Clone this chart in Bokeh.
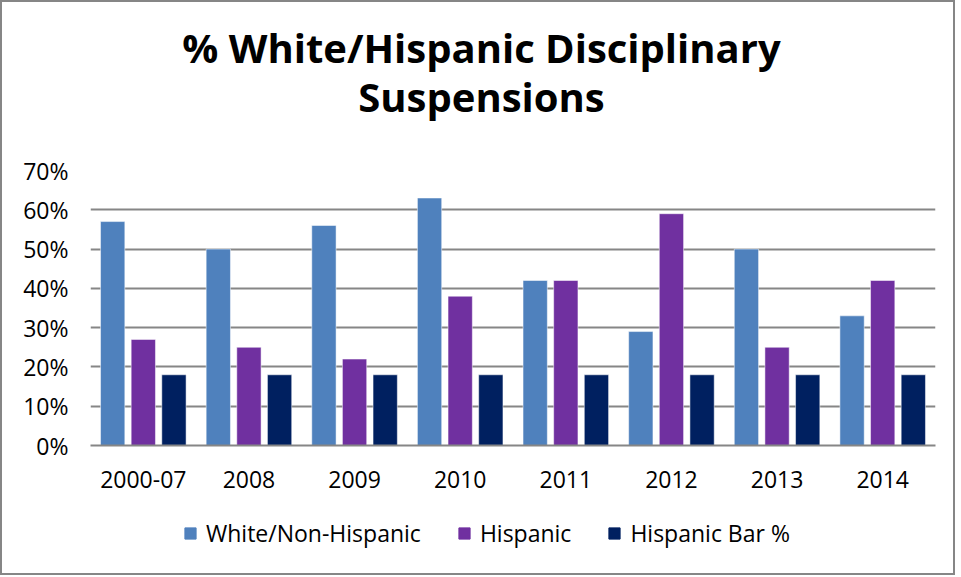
from bokeh.plotting import figure
from bokeh.layouts import column
from bokeh.models import (FactorRange, ColumnDataSource, NumeralTickFormatter, Legend, LegendItem,
                          FixedTicker, Label, Range1d)
from bokeh.transform import dodge
from bokeh.embed import file_html
from bokeh.resources import INLINE

categories = ["2000-07", "2008", "2009", "2010", "2011", "2012", "2013", "2014"]
white_non_hispanic = [0.57, 0.50, 0.56, 0.63, 0.42, 0.29, 0.50, 0.33]
hispanic = [0.27, 0.25, 0.22, 0.38, 0.42, 0.59, 0.25, 0.42]
hispanic_bar = [0.18, 0.18, 0.18, 0.18, 0.18, 0.18, 0.18, 0.18]
series_names = ["White/Non-Hispanic", "Hispanic", "Hispanic Bar %"]
y_ticks = [0, 0.1, 0.2, 0.3, 0.4, 0.5, 0.6, 0.7]
title_line1 = "% White/Hispanic Disciplinary"
title_line2 = "Suspensions"

colors = ["#4F81BD", "#7030A0", "#002060"]
FONT = "Open Sans"
W = 951


def blank_fig(h):
    f = figure(width=W, height=h, x_range=Range1d(0, 1), y_range=Range1d(0, 1),
               x_axis_type=None, y_axis_type=None, output_backend="svg", toolbar_location=None,
               min_border=0)
    f.title = None
    f.xgrid.visible = False
    f.ygrid.visible = False
    f.outline_line_color = None
    return f


# ---- title ----
pt = blank_fig(148)
for txt, yb in ((title_line1, 103), (title_line2, 54)):
    pt.add_layout(Label(x=391, y=yb, x_units="screen", y_units="screen", text=txt,
                        text_align="center", text_baseline="alphabetic", text_font=FONT,
                        text_font_size="40px", text_font_style="bold", text_color="#000000"))

# ---- main chart ----
src = ColumnDataSource(dict(cat=categories, w=white_non_hispanic, h=hispanic, b=hispanic_bar))

p = figure(x_range=FactorRange(*categories), y_range=(0, 0.7),
           width=W, frame_width=845, frame_height=275, output_backend="svg", toolbar_location=None,
           min_border_left=88, min_border_right=18, min_border_top=20, min_border_bottom=60)
p.title = None

r1 = p.vbar(x=dodge("cat", -0.29, range=p.x_range), top="w", width=0.23, source=src,
            color=colors[0], line_color="white", line_width=0.5)
r2 = p.vbar(x=dodge("cat", 0.0, range=p.x_range), top="h", width=0.23, source=src,
            color=colors[1], line_color="white", line_width=0.5)
r3 = p.vbar(x=dodge("cat", 0.29, range=p.x_range), top="b", width=0.23, source=src,
            color=colors[2], line_color="white", line_width=0.5)

p.x_range.range_padding = 0
p.yaxis.ticker = FixedTicker(ticks=y_ticks)
p.yaxis.formatter = NumeralTickFormatter(format="0%")
p.yaxis.axis_line_color = None
p.yaxis.major_tick_line_color = None
p.yaxis.minor_tick_line_color = None
p.yaxis.major_label_text_font = FONT
p.yaxis.major_label_text_font_size = "23px"
p.yaxis.major_label_text_color = "#000000"
p.yaxis.major_label_standoff = 16

p.xaxis.axis_line_color = "#868686"
p.xaxis.axis_line_width = 2
p.xaxis.major_tick_line_color = None
p.xaxis.minor_tick_line_color = None
p.xaxis.major_label_text_font = FONT
p.xaxis.major_label_text_font_size = "23px"
p.xaxis.major_label_text_color = "#000000"
p.xaxis.major_label_standoff = 19

p.xgrid.grid_line_color = None
p.ygrid.grid_line_color = "#868686"
p.ygrid.grid_line_width = 2
p.ygrid.ticker = FixedTicker(ticks=y_ticks)
p.outline_line_color = None

# ---- legend (swatch renderers sit outside the visible range) ----
pl = blank_fig(68)
d1 = pl.vbar(x=[-5], top=[-5], width=0.1, color=colors[0])
d2 = pl.vbar(x=[-5], top=[-5], width=0.1, color=colors[1])
d3 = pl.vbar(x=[-5], top=[-5], width=0.1, color=colors[2])
legend = Legend(items=[LegendItem(label=series_names[0], renderers=[d1]),
                       LegendItem(label=series_names[1], renderers=[d2]),
                       LegendItem(label=series_names[2], renderers=[d3])],
                orientation="horizontal", location=(93, 24),
                label_text_font=FONT, label_text_font_size="23px", label_text_color="#000000",
                glyph_width=14, glyph_height=14, spacing=36, label_standoff=9,
                border_line_color=None, background_fill_alpha=0, margin=0, padding=4)
pl.add_layout(legend, "center")

layout = column(pt, p, pl, spacing=0)
layout.styles = {"border": "2px solid #868686"}

open("out.html", "w").write(file_html(layout, INLINE))
